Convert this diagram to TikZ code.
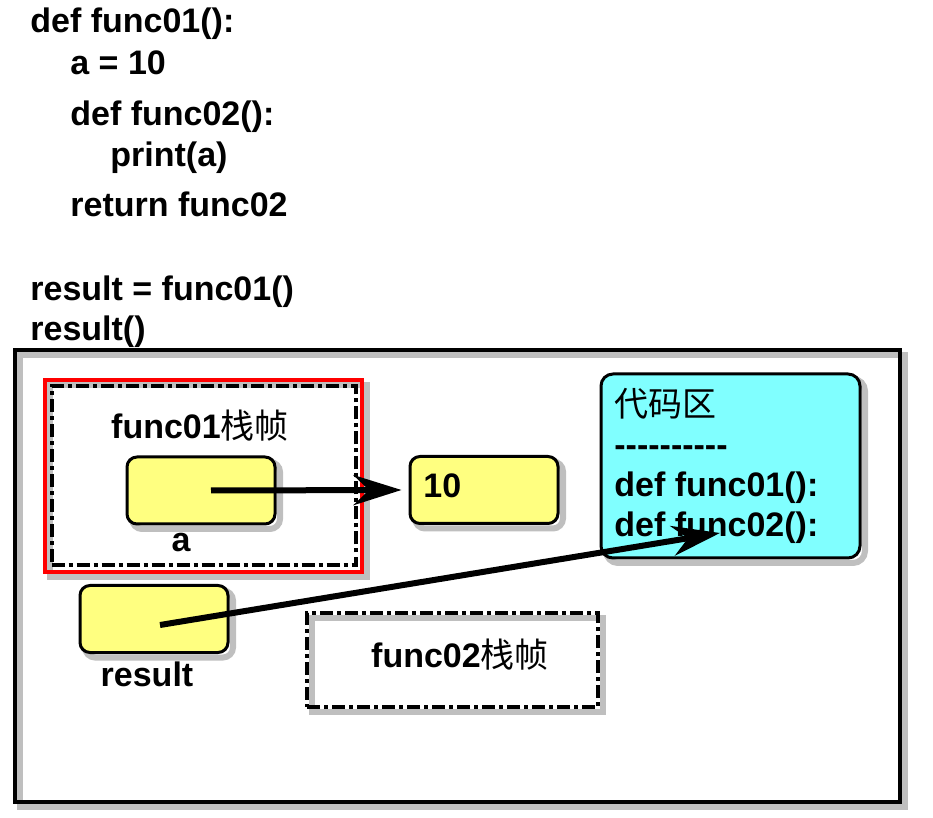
\documentclass[tikz,border=0pt]{standalone}
\usepackage{fontspec}
\setmainfont{Liberation Sans}
\newfontfamily\cjk{Noto Sans CJK SC}
\usetikzlibrary{positioning,arrows.meta}
\definecolor{varyellow}{RGB}{255,255,128}
\definecolor{codecyan}{RGB}{128,255,255}
\newcommand\hy{-\kern0pt}
\tikzset{
  codetext/.style={inner sep=0pt, font=\fontsize{17}{20}\selectfont\bfseries},
  codeline/.style={codetext, anchor=base west},
  softshadow/.style={preaction={draw=black!25, line width=3pt, solid, transform canvas={xshift=2.5pt, yshift=-2.5pt}}},
  varbox/.style={draw, rounded corners=5pt, line width=1.5pt, fill=varyellow, minimum width=74pt, minimum height=33.5pt, inner sep=0pt},
  dashframe/.style={draw, line width=2pt, dash pattern=on 6.5pt off 2pt on 2pt off 2pt, inner sep=0pt},
  memframe/.style={draw, line width=2pt, inner sep=0pt},
  ptrarrow/.style={-{Stealth[length=24pt, width=15pt]}, line width=3pt}
}

\begin{document}
\begin{tikzpicture}[x=0.5pt, y=-0.5pt]
  \useasboundingbox (0,0) rectangle (933,818);
  % program
  \node[codeline] (l1) at (30,33) {def func01():};
  \node[codeline] (l2) at (70,75) {a = 10};
  \node[codeline] (l3) at (70,126) {def func02():};
  \node[codeline] (l4) at (110,167) {print(a)};
  \node[codeline] (l5) at (70,217) {return func02};
  \node[codeline] (l6) at (30,301) {result = func01()};
  \node[codeline] (l7) at (30,341) {result()};

  % memory
  \node[memframe, softshadow, minimum width=442.5pt, minimum height=226pt] (mem) at (457.5,576) {};
  \node[draw=red, line width=2pt, softshadow, minimum width=158.5pt, minimum height=96pt, inner sep=0pt] (stack1) at (203.5,476) {};
  \node[dashframe, minimum width=152pt, minimum height=89.5pt] (stack1in) at (203.5,476) {};
  \node[codetext] (stack1lbl) at (200,426) {func01{\cjk\mdseries 栈帧}};
  \node[varbox, softshadow] (a) at (201,490.5) {};
  \node[codetext] (alabel) at (181,543) {a};
  \node[varbox, softshadow] (val) at (484,490) {};
  \node[codeline] (valtxt) at (423,498) {10};

  \node[draw, rounded corners=6pt, line width=1.5pt, fill=codecyan, softshadow, minimum width=129.5pt, minimum height=92pt] (code) at (730.5,466) {};
  \node[codeline, font=\fontsize{17}{20}\selectfont\cjk] (codetitle) at (614,417) {代码区};
  \node[codeline] (codesep) at (614,457) {\hy\hy\hy\hy\hy\hy\hy\hy\hy\hy};
  \node[codeline] (codef1) at (614,497) {def func01():};
  \node[codeline] (codef2) at (614,537) {def func02():};
  \coordinate (f2ref) at (720,533);

  \node[varbox, softshadow] (result) at (154,619) {};
  \node[codetext] (resultlbl) at (147,674) {result};

  \node[dashframe, softshadow, minimum width=145.5pt, minimum height=47pt] (stack2) at (452.5,660) {};
  \node[codetext] (stack2lbl) at (460,655) {func02{\cjk\mdseries 栈帧}};

  \draw[ptrarrow] ([xshift=5pt]a.center) -- ([xshift=-3.5pt]val.west);
  \draw[ptrarrow] ([shift={(3pt,-3pt)}]result.center) -- (f2ref);
\end{tikzpicture}
\end{document}
